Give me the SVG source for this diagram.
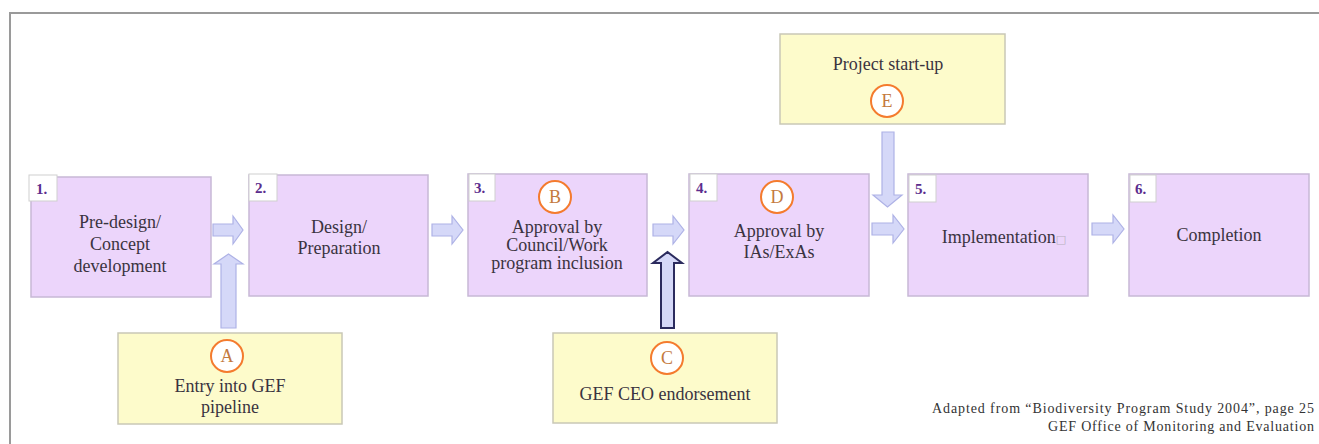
<svg xmlns="http://www.w3.org/2000/svg" width="1319" height="444" viewBox="0 0 1319 444">
<style>
.frame{fill:#ffffff;stroke:#9a9a9a;stroke-width:2}
.step{fill:#ecd5fb;stroke:#c7b8d6;stroke-width:1.5}
.num{fill:#ffffff;stroke:#cfcfcf;stroke-width:1}
.numt{font-family:"Liberation Serif",serif;font-size:15px;font-weight:bold;fill:#5b2d8e}
.note{fill:#fdfbcb;stroke:#c9c8b6;stroke-width:1.5}
.t{font-family:"Liberation Serif",serif;font-size:18px;fill:#3a3340;text-anchor:middle}
.circ{fill:#ffffff;stroke:#f47b2e;stroke-width:2}
.lt{font-family:"Liberation Serif",serif;font-size:18px;fill:#c47a3e;text-anchor:middle}
.arr{fill:#d5d8f8;stroke:#aeb2e6;stroke-width:1.2}
.arrd{fill:#d5d8f8;stroke:#2b2b5e;stroke-width:2}
.foot{font-family:"Liberation Serif",serif;font-size:14px;fill:#333333}
</style>
<rect class="frame" x="10" y="13" width="1320" height="440"/>
<g id="connectors">
<path class="arr" d="M213,224 H233 V216 L243,230 L233,244 V236 H213 Z"/>
<path class="arr" d="M432,224 H452 V216 L463,230 L452,244 V236 H432 Z"/>
<path class="arr" d="M653,224 H673 V216 L684,230 L673,244 V236 H653 Z"/>
<path class="arr" d="M872,223 H893 V215 L904,229 L893,243 V235 H872 Z"/>
<path class="arr" d="M1092,223 H1113 V215 L1124,229 L1113,243 V235 H1092 Z"/>
<path class="arr" d="M221,328 V264 H214 L228.5,254 L243,264 H236 V328 Z"/>
<path class="arrd" d="M661,328 V263 H653 L667.5,252 L682,263 H674 V328 Z"/>
<path class="arr" d="M882,132 V195 H873 L887.5,207 L902,195 H894 V132 Z"/>
</g>
<g id="step1">
<rect class="step" x="31" y="177" width="180" height="120"/>
<rect class="num" x="29" y="175" width="28" height="26"/>
<text class="numt" x="36" y="194">1.</text>
<text class="t" x="120" y="228">Pre-design/</text>
<text class="t" x="120" y="250">Concept</text>
<text class="t" x="120" y="272">development</text>
</g>
<g id="step2">
<rect class="step" x="249" y="175" width="179" height="121"/>
<rect class="num" x="249" y="174" width="28" height="27"/>
<text class="numt" x="255" y="193">2.</text>
<text class="t" x="339" y="233">Design/</text>
<text class="t" x="339" y="254">Preparation</text>
</g>
<g id="step3">
<rect class="step" x="468" y="174" width="179" height="122"/>
<rect class="num" x="469" y="174" width="26" height="27"/>
<text class="numt" x="474" y="193">3.</text>
<circle class="circ" cx="555" cy="197" r="16"/>
<text class="lt" x="555" y="203">B</text>
<text class="t" x="557" y="233">Approval by</text>
<text class="t" x="557" y="251">Council/Work</text>
<text class="t" x="557" y="269">program inclusion</text>
</g>
<g id="step4">
<rect class="step" x="689" y="174" width="180" height="122"/>
<rect class="num" x="690" y="174" width="27" height="27"/>
<text class="numt" x="696" y="193">4.</text>
<circle class="circ" cx="777" cy="197" r="16"/>
<text class="lt" x="777" y="203">D</text>
<text class="t" x="779" y="237">Approval by</text>
<text class="t" x="779" y="258">IAs/ExAs</text>
</g>
<g id="step5">
<rect class="step" x="908" y="174" width="180" height="122"/>
<rect class="num" x="909" y="175" width="27" height="27"/>
<text class="numt" x="915" y="194">5.</text>
<text class="t" x="1004" y="243">Implementation<tspan font-family="DejaVu Sans" font-size="11" fill="#b8b0c0">□</tspan></text>
</g>
<g id="step6">
<rect class="step" x="1129" y="174" width="180" height="122"/>
<rect class="num" x="1130" y="175" width="26" height="27"/>
<text class="numt" x="1135" y="194">6.</text>
<text class="t" x="1219" y="241">Completion</text>
</g>
<g id="noteA">
<rect class="note" x="118" y="333" width="224" height="91"/>
<circle class="circ" cx="227" cy="356" r="16"/>
<text class="lt" x="227" y="362">A</text>
<text class="t" x="230" y="392">Entry into GEF</text>
<text class="t" x="230" y="413">pipeline</text>
</g>
<g id="noteC">
<rect class="note" x="553" y="333" width="224" height="90"/>
<circle class="circ" cx="667" cy="358" r="16"/>
<text class="lt" x="667" y="364">C</text>
<text class="t" x="665" y="400">GEF CEO endorsement</text>
</g>
<g id="noteE">
<rect class="note" x="780" y="34" width="225" height="90"/>
<text class="t" x="888" y="70">Project start-up</text>
<circle class="circ" cx="887" cy="101" r="16"/>
<text class="lt" x="887" y="107">E</text>
</g>
<g id="footnote">
<text class="foot" x="932" y="413" textLength="382" lengthAdjust="spacing">Adapted from “Biodiversity Program Study 2004”, page 25</text>
<text class="foot" x="1048" y="431" textLength="266" lengthAdjust="spacing">GEF Office of Monitoring and Evaluation</text>
</g>
</svg>
